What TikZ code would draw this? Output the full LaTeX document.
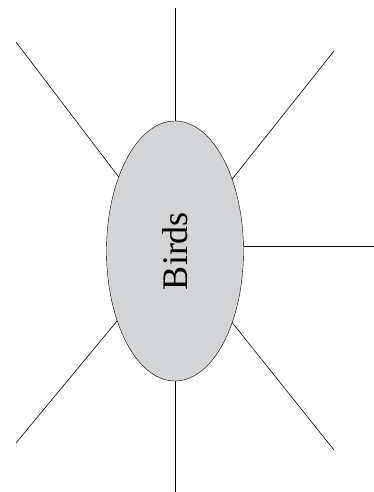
\documentclass[tikz,border=0pt]{standalone}
\usepackage{fontspec}
\setmainfont{Liberation Serif}
\usepackage{tikz}
\usetikzlibrary{shapes.geometric}
\definecolor{topicgray}{RGB}{211,212,214}

\begin{document}
\begin{tikzpicture}[
    x=1pt, y=-1pt,
    topic/.style = {ellipse, draw, fill=topicgray, minimum width=137pt, minimum height=260pt, inner sep=0pt, font=\fontsize{36}{40}\selectfont},
    spoke/.style = {draw, line width=0.6pt}
]
\useasboundingbox (0,0) rectangle (374,492);
\node[topic] (birds) at (175,251) {\rotatebox{90}{Birds}};
\coordinate (n)  at (175,8);
\coordinate (nw) at (16,42);
\coordinate (ne) at (334,51);
\coordinate (e)  at (374,246);
\coordinate (sw) at (16,443);
\coordinate (se) at (334,450);
\coordinate (s)  at (175,492);
\foreach \p in {n, nw, ne, sw, se, s}
  \draw[spoke] (birds) -- (\p);
\draw[spoke] (birds.east |- e) -- (e);
\end{tikzpicture}
\end{document}
